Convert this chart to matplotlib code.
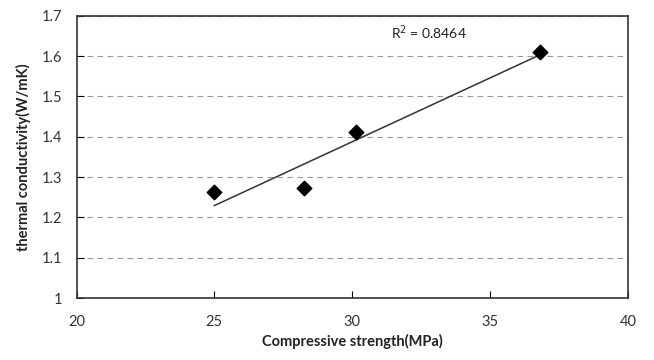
import numpy as np
import matplotlib
matplotlib.use('Agg')
import matplotlib.pyplot as plt

plt.rcParams['font.family'] = ['Lato', 'DejaVu Sans']

strength = [25.0, 28.25, 30.15, 36.8]
conductivity = [1.262, 1.272, 1.412, 1.611]
r2_label = 'R$^2$ = 0.8464'
x_ticks = [20, 25, 30, 35, 40]
y_ticks = [1, 1.1, 1.2, 1.3, 1.4, 1.5, 1.6, 1.7]
y_tick_labels = ['1', '1.1', '1.2', '1.3', '1.4', '1.5', '1.6', '1.7']

fig = plt.figure(figsize=(6.54, 3.6), dpi=100)
ax = fig.add_axes([0.117, 0.172, 0.843, 0.784])

# linear trend line over the data range
k, b = np.polyfit(strength, conductivity, 1)
xs = np.array([min(strength), max(strength)])
ax.plot(xs, k * xs + b, color='#333333', lw=1.1, zorder=2)
ax.scatter(strength, conductivity, marker='D', s=55, color='black', zorder=3)

ax.text(31.4, 1.658, r2_label, fontsize=10, color='#222222', va='center')

ax.set_xlim(20, 40)
ax.set_ylim(1, 1.7)
ax.set_xticks(x_ticks)
ax.set_yticks(y_ticks)
ax.set_yticklabels(y_tick_labels)
ax.yaxis.grid(True, linestyle=(0, (5, 4)), color='#9a9a9a', lw=0.8)
ax.set_axisbelow(True)
ax.tick_params(direction='in', length=5, labelsize=10.5, labelcolor='#333333',
               pad=12)
ax.tick_params(axis='y', pad=10)
for s in ax.spines.values():
    s.set_linewidth(1.2)
    s.set_color('#333333')

ax.set_xlabel('Compressive strength(MPa)', fontsize=10.5, fontweight='bold',
              color='#222222', labelpad=4)
ax.set_ylabel('thermal conductivity(W/mK)', fontsize=10.5, fontweight='bold',
              color='#222222', labelpad=8)

plt.savefig('out.png', dpi=100)
